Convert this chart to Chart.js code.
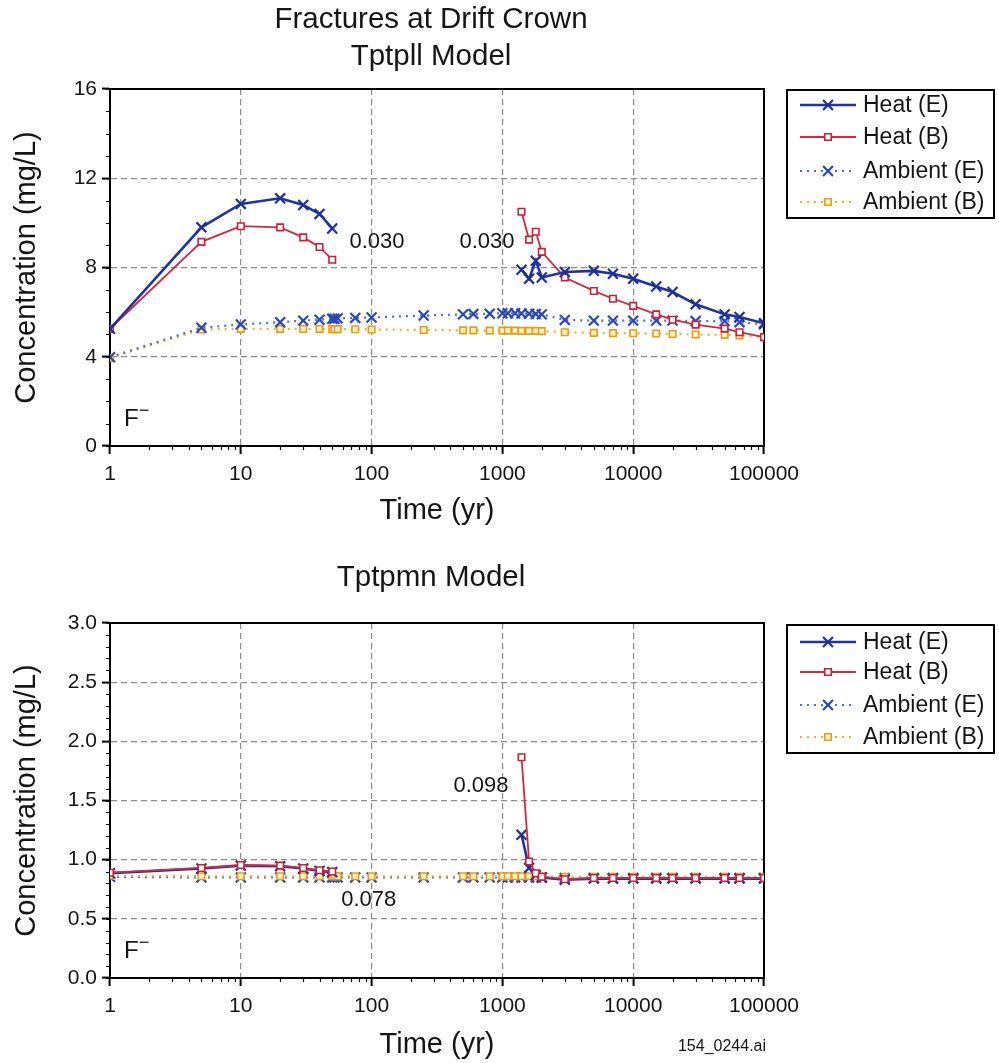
<!DOCTYPE html>
<html>
<head>
<meta charset="utf-8">
<title>Fractures at Drift Crown</title>
<script src="https://cdn.jsdelivr.net/npm/chart.js@4.4.1/dist/chart.umd.min.js"></script>
<style>
  html, body { margin: 0; padding: 0; background: #fff; }
  #wrap { position: relative; width: 999px; height: 1063px; }
  canvas { position: absolute; left: 0; }
  #topChart { top: 0; }
  #botChart { top: 530px; }
</style>
</head>
<body>
<div id="wrap">
  <canvas id="topChart" width="999" height="530"></canvas>
  <canvas id="botChart" width="999" height="533"></canvas>
</div>
<script>
Chart.defaults.font.family = '"Liberation Sans", Arial, Helvetica, sans-serif';
Chart.defaults.color = '#1a1a1a';

// time points (yr); the heated runs break between 50 and 1400 yr (null at 100)
const heatTime = [1, 5, 10, 20, 30, 40, 50, 100, 1400, 1600, 1800, 2000, 3000, 5000, 7000, 10000, 15000, 20000, 30000, 50000, 65000, 100000];
const ambientTime = [1, 5, 10, 20, 30, 40, 50, 52, 55, 75, 100, 250, 500, 600, 800, 1000, 1100, 1250, 1400, 1600, 1800, 2000, 3000, 5000, 7000, 10000, 15000, 20000, 30000, 50000, 65000, 100000];
const timeTicks = [1, 10, 100, 1000, 10000, 100000];
const seriesNames = ['Heat (E)', 'Heat (B)', 'Ambient (E)', 'Ambient (B)'];

// Tptpll model (mg/L)
const tptpllHeatE = [5.25, 9.8, 10.85, 11.1, 10.8, 10.4, 9.75, null, 7.9, 7.5, 8.3, 7.55, 7.8, 7.85, 7.72, 7.5, 7.15, 6.9, 6.35, 5.9, 5.78, 5.5];
const tptpllHeatB = [5.25, 9.15, 9.85, 9.8, 9.35, 8.92, 8.35, null, 10.5, 9.25, 9.6, 8.7, 7.55, 6.95, 6.6, 6.28, 5.9, 5.66, 5.44, 5.26, 5.1, 4.88];
const tptpllAmbE = [3.98, 5.3, 5.45, 5.55, 5.62, 5.66, 5.7, 5.7, 5.72, 5.74, 5.76, 5.85, 5.9, 5.92, 5.93, 5.95, 5.95, 5.95, 5.94, 5.93, 5.92, 5.9, 5.65, 5.62, 5.62, 5.62, 5.62, 5.62, 5.6, 5.6, 5.55, 5.45];
const tptpllAmbB = [3.95, 5.22, 5.25, 5.25, 5.25, 5.25, 5.24, 5.24, 5.24, 5.23, 5.22, 5.2, 5.18, 5.18, 5.17, 5.17, 5.17, 5.17, 5.16, 5.16, 5.16, 5.15, 5.1, 5.07, 5.06, 5.05, 5.04, 5.02, 5.0, 4.98, 4.96, 4.88];

// Tptpmn model (mg/L)
const tptpmnHeatE = [0.885, 0.925, 0.95, 0.945, 0.925, 0.905, 0.895, null, 1.21, 0.93, 0.87, 0.85, 0.83, 0.84, 0.84, 0.84, 0.84, 0.84, 0.84, 0.84, 0.84, 0.84];
const tptpmnHeatB = [0.89, 0.93, 0.955, 0.95, 0.93, 0.91, 0.9, null, 1.865, 0.985, 0.885, 0.855, 0.835, 0.845, 0.845, 0.845, 0.845, 0.845, 0.845, 0.845, 0.845, 0.845];
const tptpmnAmbE = [0.855, 0.85, 0.85, 0.85, 0.85, 0.85, 0.85, 0.85, 0.85, 0.85, 0.85, 0.85, 0.85, 0.85, 0.85, 0.85, 0.85, 0.85, 0.85, 0.85, 0.85, 0.85, 0.845, 0.845, 0.845, 0.845, 0.845, 0.845, 0.845, 0.845, 0.845, 0.845];
const tptpmnAmbB = [0.865, 0.86, 0.86, 0.86, 0.86, 0.86, 0.86, 0.86, 0.86, 0.86, 0.86, 0.86, 0.86, 0.86, 0.86, 0.86, 0.86, 0.86, 0.86, 0.86, 0.86, 0.86, 0.855, 0.855, 0.855, 0.855, 0.855, 0.855, 0.855, 0.855, 0.855, 0.85];

// value labels written on the plots: [text, time, concentration]
const tptpllNotes = [['0.030', 110, 9.14], ['0.030', 763, 9.14]];
const tptpmnNotes = [['0.098', 686, 1.62], ['0.078', 95, 0.66]];

const pts = (xs, ys) => xs.map((x, i) => ({ x: x, y: ys[i] }));

// order: lower numbers are painted on top
function makeSets(hE, hB, aE, aB, order) {
  return [
    { label: seriesNames[0], data: pts(heatTime, hE), order: order[0], borderColor: '#2233a0', borderWidth: 2.6,
      pointStyle: 'crossRot', pointRadius: 7, pointBorderWidth: 2.2, pointBorderColor: '#1f2f9c', pointBackgroundColor: '#1f2f9c' },
    { label: seriesNames[1], data: pts(heatTime, hB), order: order[1], borderColor: '#d4283c', borderWidth: 1.8,
      pointStyle: 'rect', pointRadius: 4.6, pointBorderWidth: 1.6, pointBorderColor: '#cc2035', pointBackgroundColor: '#fff' },
    { label: seriesNames[2], data: pts(ambientTime, aE), order: order[2], borderColor: '#4a6fd2', borderWidth: 2.2, borderDash: [2, 5],
      pointStyle: 'crossRot', pointRadius: 7, pointBorderWidth: 2.2, pointBorderColor: '#2a48b8', pointBackgroundColor: '#2a48b8' },
    { label: seriesNames[3], data: pts(ambientTime, aB), order: order[3], borderColor: '#f2b01a', borderWidth: 2.2, borderDash: [2, 5],
      pointStyle: 'rect', pointRadius: 4.6, pointBorderWidth: 1.6, pointBorderColor: '#ee9a18', pointBackgroundColor: '#fff6c8' }
  ];
}

function drawMark(ctx, ds, x, y) {
  ctx.save();
  ctx.setLineDash([]);
  ctx.lineWidth = ds.pointBorderWidth;
  ctx.strokeStyle = ds.pointBorderColor;
  ctx.fillStyle = ds.pointBackgroundColor;
  ctx.beginPath();
  if (ds.pointStyle === 'crossRot') {
    const d = ds.pointRadius * Math.SQRT1_2;
    ctx.moveTo(x - d, y - d); ctx.lineTo(x + d, y + d);
    ctx.moveTo(x - d, y + d); ctx.lineTo(x + d, y - d);
  } else {
    const s = ds.pointRadius * Math.SQRT1_2;
    ctx.rect(x - s, y - s, 2 * s, 2 * s);
    ctx.fill();
  }
  ctx.stroke();
  ctx.restore();
}

const decor = {
  id: 'decor',
  beforeDatasetsDraw(chart, args, o) {
    const { ctx, chartArea: a } = chart;
    const xs = chart.scales.x, ys = chart.scales.y;
    ctx.save();
    ctx.strokeStyle = '#111';
    ctx.lineWidth = 1.2;
    ctx.beginPath();
    for (let d = 1; d < 100000; d *= 10) {
      for (let k = 2; k < 10; k++) {
        const px = Math.round(xs.getPixelForValue(d * k)) + 0.5;
        ctx.moveTo(px, a.bottom); ctx.lineTo(px, a.bottom + 4);
      }
    }
    for (let v = 0; v <= ys.max + 1e-9; v += o.minorStep) {
      const py = Math.round(ys.getPixelForValue(v)) + 0.5;
      ctx.moveTo(a.left - 4, py); ctx.lineTo(a.left, py);
    }
    ctx.stroke();
    ctx.lineWidth = 2;
    ctx.strokeStyle = '#000';
    ctx.strokeRect(a.left, a.top, a.right - a.left, a.bottom - a.top);
    ctx.restore();
  },
  afterDraw(chart, args, o) {
    const { ctx, chartArea: a } = chart;
    const xs = chart.scales.x, ys = chart.scales.y;
    ctx.save();
    ctx.fillStyle = '#151515';
    ctx.textAlign = 'center';
    ctx.textBaseline = 'middle';
    ctx.font = '29.5px "Liberation Sans", Arial, sans-serif';
    o.titles.forEach(t => ctx.fillText(t[0], 431, t[1]));

    ctx.font = '22px "Liberation Sans", Arial, sans-serif';
    o.notes.forEach(n => ctx.fillText(n[0], xs.getPixelForValue(n[1]), ys.getPixelForValue(n[2])));

    // ion label
    ctx.textAlign = 'left';
    ctx.textBaseline = 'alphabetic';
    ctx.font = '24px "Liberation Sans", Arial, sans-serif';
    const fx = a.left + 14, fy = a.bottom - 20;
    ctx.fillText('F', fx, fy);
    const fw = ctx.measureText('F').width;
    ctx.font = '18px "Liberation Sans", Arial, sans-serif';
    ctx.fillText('\u2212', fx + fw, fy - 10);

    if (o.footnote) {
      ctx.textAlign = 'center';
      ctx.textBaseline = 'middle';
      ctx.font = '16px "Liberation Sans", Arial, sans-serif';
      ctx.fillText(o.footnote[0], o.footnote[1], o.footnote[2]);
    }

    // legend box
    const lg = o.legend;
    ctx.lineWidth = 2;
    ctx.strokeStyle = '#000';
    ctx.strokeRect(lg.x, lg.y, lg.w, lg.h);
    ctx.font = '23px "Liberation Sans", Arial, sans-serif';
    ctx.textAlign = 'left';
    ctx.textBaseline = 'middle';
    chart.data.datasets.forEach((ds, i) => {
      const ry = lg.y + lg.rows[i];
      ctx.save();
      ctx.strokeStyle = ds.borderColor;
      ctx.lineWidth = ds.borderWidth;
      ctx.setLineDash(ds.borderDash || []);
      ctx.beginPath();
      ctx.moveTo(lg.x + 13, ry); ctx.lineTo(lg.x + 69, ry);
      ctx.stroke();
      ctx.restore();
      drawMark(ctx, ds, lg.x + 41, ry);
      ctx.fillStyle = '#151515';
      ctx.fillText(ds.label, lg.x + 76, ry + 1);
    });
    ctx.restore();
  }
};

function makeScales(yMax, yStep, digits, xHeight, titlePad) {
  return {
    x: {
      type: 'logarithmic', min: 1, max: 100000,
      afterBuildTicks: s => { s.ticks = timeTicks.map(v => ({ value: v })); },
      afterFit: s => { s.height = xHeight; },
      ticks: { callback: v => String(v), font: { size: 21 }, padding: 8, color: '#151515', autoSkip: false, maxRotation: 0 },
      grid: { color: '#8c8c8c', lineWidth: 1.2, tickColor: '#000', tickWidth: 2, tickLength: 8, tickBorderDash: [] },
      border: { color: '#000', width: 2, dash: [6, 4] },
      title: { display: true, text: 'Time (yr)', font: { size: 29 }, color: '#151515', padding: { top: 0, bottom: titlePad } }
    },
    y: {
      min: 0, max: yMax,
      afterFit: s => { s.width = 110; },
      ticks: { stepSize: yStep, callback: v => v.toFixed(digits), font: { size: 21 }, padding: 5, color: '#151515' },
      grid: { color: '#8c8c8c', lineWidth: 1.2, tickColor: '#000', tickWidth: 2, tickLength: 8, tickBorderDash: [] },
      border: { color: '#000', width: 2, dash: [6, 4] },
      title: { display: true, text: 'Concentration (mg/L)', font: { size: 29 }, color: '#151515', padding: { top: 10, bottom: 0 } }
    }
  };
}

function makeChart(id, sets, scales, pad, deco) {
  return new Chart(document.getElementById(id), {
    type: 'line',
    data: { datasets: sets },
    options: {
      responsive: false,
      animation: false,
      layout: { padding: pad },
      scales: scales,
      plugins: { legend: { display: false }, tooltip: { enabled: false }, decor: deco }
    },
    plugins: [decor]
  });
}

makeChart('topChart',
  makeSets(tptpllHeatE, tptpllHeatB, tptpllAmbE, tptpllAmbB, [0, 1, 2, 3]),
  makeScales(16, 4, 0, 84, 2),
  { top: 89, right: 235, left: 0, bottom: 0 },
  { minorStep: 1, titles: [['Fractures at Drift Crown', 20], ['Tptpll Model', 57]], notes: tptpllNotes,
    legend: { x: 787, y: 90, w: 207, h: 128, rows: [15, 47, 81, 112] } });

makeChart('botChart',
  makeSets(tptpmnHeatE, tptpmnHeatB, tptpmnAmbE, tptpmnAmbB, [1, 0, 3, 2]),
  makeScales(3, 0.5, 1, 85, 1),
  { top: 93, right: 235, left: 0, bottom: 0 },
  { minorStep: 0.1, titles: [['Tptpmn Model', 48]], notes: tptpmnNotes,
    footnote: ['154_0244.ai', 722, 517],
    legend: { x: 787, y: 95, w: 207, h: 128, rows: [17, 47, 80, 112] } });
</script>
</body>
</html>
